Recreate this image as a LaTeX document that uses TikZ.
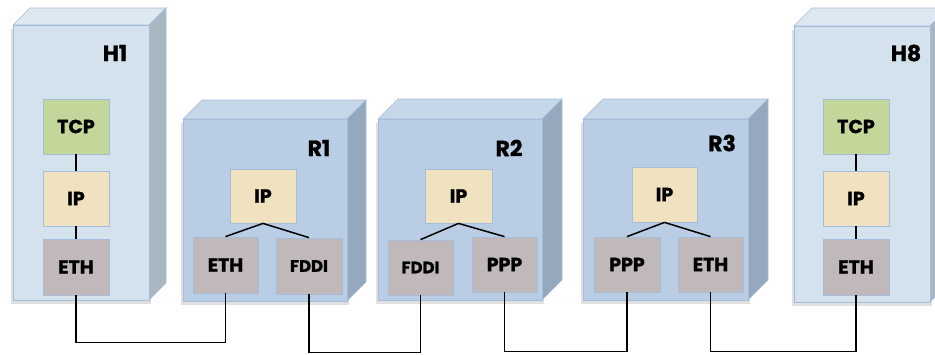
\documentclass[tikz,border=0pt]{standalone}
\usepackage{fontspec}
\setmainfont{Poppins}[BoldFeatures={FakeBold=1.2}]
\begin{document}
\begin{tikzpicture}[x=1pt,y=-1pt,
  layer/.style={draw=edgeblue, line width=0.8pt, minimum width=66pt, minimum height=55pt,
     inner sep=0pt, font=\fontsize{19}{19}\selectfont\bfseries, text=black},
  tcp/.style={layer, fill=tcpgreen},
  ipl/.style={layer, fill=iptan},
  lnk/.style={layer, fill=linkgray},
  fddi/.style={lnk, font=\fontsize{16.5}{16.5}\selectfont\bfseries},
  lbl/.style={font=\fontsize{22}{22}\selectfont\bfseries, text=black, inner sep=0pt},
  wire/.style={draw=black, line width=1.8pt},
  stack/.style={draw=black, line width=1.5pt}
]
\definecolor{edgeblue}{HTML}{A4BDDA}
\definecolor{tcpgreen}{HTML}{C4D79B}
\definecolor{iptan}{HTML}{F0E1C0}
\definecolor{linkgray}{HTML}{C1B9B9}
\definecolor{hostfront}{HTML}{D4E2EE}
\definecolor{hostside}{HTML}{A9B7C3}
\definecolor{hosttop}{HTML}{DDE8F1}
\definecolor{rtfront}{HTML}{B9CDE5}
\definecolor{rtside}{HTML}{96A9BC}
\definecolor{rttop}{HTML}{C6D7EA}
\clip (0,0) rectangle (935,354);
\fill[white] (0,0) rectangle (935,354);

% cube macro: #1 left, #2 top, #3 right, #4 bottom, #5 depth, #6 front, #7 side, #8 top
\newcommand{\mycube}[8]{%
  \fill[black, opacity=0.12] (#1-2,#2+4) rectangle (#3+2,#4+4);
  \filldraw[fill=#8, draw=edgeblue, line width=0.6pt] (#1,#2) -- ++(#5,-#5) -- (#3+#5,#2-#5) -- (#3,#2) -- cycle;
  \filldraw[fill=#7, draw=edgeblue, line width=0.6pt] (#3,#2) -- (#3+#5,#2-#5) -- (#3+#5,#4-#5) -- (#3,#4) -- cycle;
  \filldraw[fill=#6, draw=edgeblue, line width=0.6pt] (#1,#2) rectangle (#3,#4);
}

\mycube{13}{25}{149}{300}{17}{hostfront}{hostside}{hosttop}
\mycube{183}{119}{347}{301}{19}{rtfront}{rtside}{rttop}
\mycube{378}{119}{542}{300}{20}{rtfront}{rtside}{rttop}
\mycube{583}{119}{748}{300}{20}{rtfront}{rtside}{rttop}
\mycube{794}{26}{930}{302}{18}{hostfront}{hostside}{hosttop}

% labels
\node[lbl] (lh1) at (115,53) {H1};
\node[lbl] (lr1) at (319,148) {R1};
\node[lbl] (lr2) at (509,148) {R2};
\node[lbl] (lr3) at (722,143) {R3};
\node[lbl] (lh8) at (906,53) {H8};

% H1 stack
\node[tcp] (h1tcp) at (76,126.5) {TCP};
\node[ipl] (h1ip) at (76,198.5) {IP};
\node[lnk, minimum height=56pt] (h1eth) at (76,267) {ETH};
\draw[stack] (h1tcp) -- (h1ip);
\draw[stack] (h1ip) -- (h1eth);

% R1
\node[ipl, minimum height=54pt] (r1ip) at (263,196) {IP};
\node[lnk, minimum width=65pt, minimum height=56pt] (r1eth) at (225.5,265) {ETH};
\node[fddi, minimum height=56pt] (r1fddi) at (309,266) {FDDI};
\draw[stack] (r1ip.south) -- (r1eth.north);
\draw[stack] (r1ip.south) -- (r1fddi.north);

% R2
\node[ipl, minimum width=67pt, minimum height=54pt] (r2ip) at (458.5,196) {IP};
\node[fddi, minimum width=65pt] (r2fddi) at (420.5,267.5) {FDDI};
\node[lnk, minimum width=65pt] (r2ppp) at (504.5,264.5) {PPP};
\draw[stack] (r2ip.south) -- (r2fddi.north);
\draw[stack] (r2ip.south) -- (r2ppp.north);

% R3
\node[ipl, minimum width=65pt] (r3ip) at (664.5,194.5) {IP};
\node[lnk] (r3ppp) at (627,264.5) {PPP};
\node[lnk, minimum width=65pt] (r3eth) at (710.5,264.5) {ETH};
\draw[stack] (r3ip.south) -- (r3ppp.north);
\draw[stack] (r3ip.south) -- (r3eth.north);

% H8 stack
\node[tcp] (h8tcp) at (856,126.5) {TCP};
\node[ipl] (h8ip) at (856,198.5) {IP};
\node[lnk, minimum height=56pt] (h8eth) at (856,267) {ETH};
\draw[stack] (h8tcp) -- (h8ip);
\draw[stack] (h8ip) -- (h8eth);

% wires
\draw[wire] (h1eth.south) -- ++(0,47) -| (r1eth.south);
\draw[wire] (r1fddi.south) -- ++(0,58) -| (r2fddi.south);
\draw[wire] (r2ppp.south) -- ++(0,59) -| (r3ppp.south);
\draw[wire] (r3eth.south) -- ++(0,59) -| (h8eth.south);
\end{tikzpicture}
\end{document}
